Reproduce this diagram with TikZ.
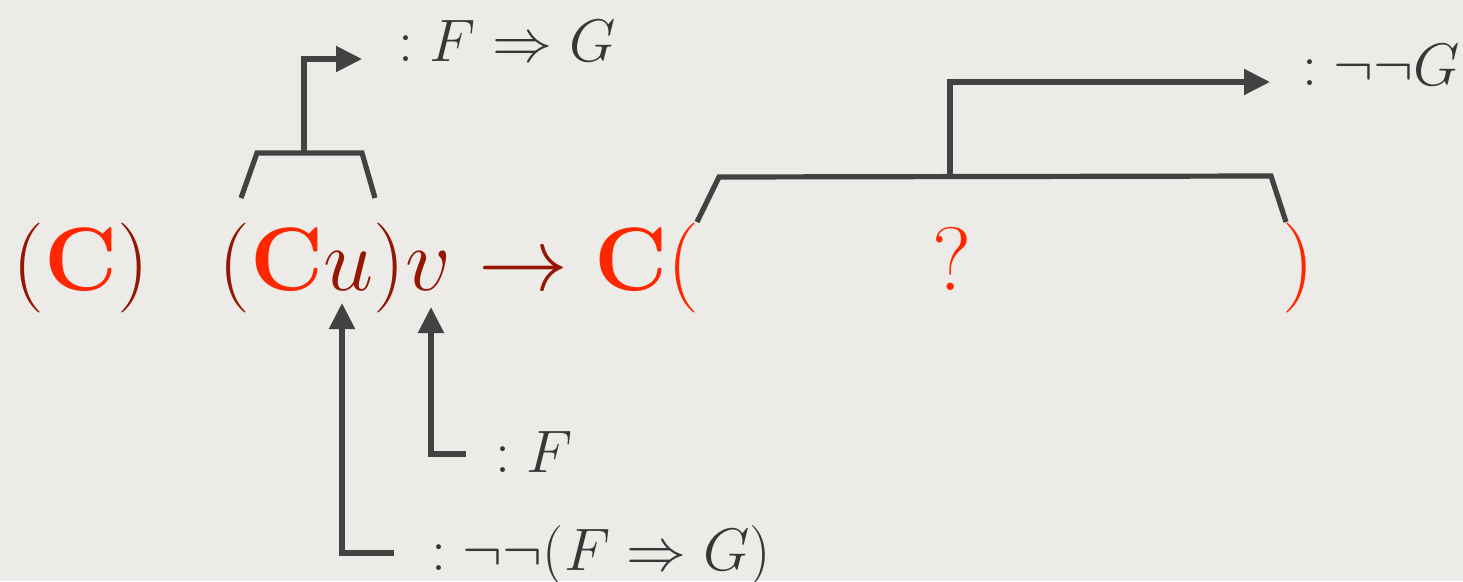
\RequirePackage{fix-cm}
\documentclass[tikz,border=0pt]{standalone}
\usetikzlibrary{arrows.meta}
\definecolor{bg}{RGB}{237,235,231}
\definecolor{dred}{RGB}{150,22,4}
\definecolor{bred}{RGB}{255,38,0}
\definecolor{lin}{RGB}{66,66,66}
\definecolor{txt}{RGB}{55,55,55}
\tikzset{
  big/.style={inner sep=0pt, anchor=base west, font=\fontsize{90}{90}\selectfont},
  lab/.style={inner sep=0pt, anchor=base west, text=txt, font=\fontsize{60}{60}\selectfont},
  conn/.style={draw=lin, line width=5.2pt, line join=miter},
  arr/.style={conn, -{Triangle[length=26pt,width=25pt]}}
}
\begin{document}
\begin{tikzpicture}[x=1pt,y=-1pt]
\fill[bg] (0,0) rectangle (1463,581);
\useasboundingbox (0,0) rectangle (1463,581);
% main line
\node[big] (cc) at (12,290) {$\textcolor{dred}{(}\textcolor{bred}{\mathbf{C}}\textcolor{dred}{)}$};
\node[big] (cuv) at (218,290) {$\textcolor{dred}{(}\textcolor{bred}{\mathbf{C}}\textcolor{dred}{u)v}$};
\node[big, text=dred] (to) at (478,290) {$\rightarrow$};
\node[big, text=bred] (cl) at (594,290) {$\mathbf{C}($};
\node[big, text=bred] (q) at (932,290) {?};
\node[big, text=bred] (rp) at (1282,290) {$)$};
% labels
\node[lab] (l1) at (398,61) {$:F\Rightarrow G$};
\node[lab] (l2) at (1302,85) {$:\neg\neg G$};
\node[lab] (l3) at (495,472) {$:F$};
\node[lab] (l4) at (431,570) {$:\neg\neg(F\Rightarrow G)$};
% small bracket over (Cu)
\coordinate (b1a) at (241,198);
\coordinate (b1b) at (257,153);
\coordinate (b1c) at (362,153);
\coordinate (b1d) at (375,198);
\coordinate (b1s) at (304,153);
\coordinate (b1t) at (362,59);
\draw[conn] (b1a) -- (b1b) -- (b1c) -- (b1d);
\draw[arr] (b1s) |- (b1t);
% big bracket over ( ? )
\coordinate (b2a) at (697,222);
\coordinate (b2b) at (719,177);
\coordinate (b2c) at (1271,176);
\coordinate (b2d) at (1286,222);
\coordinate (b2s) at (950,177);
\coordinate (b2t) at (1270,82);
\draw[conn] (b2a) -- (b2b) -- (b2c) -- (b2d);
\draw[arr] (b2s) |- (b2t);
% arrows from below
\coordinate (a1s) at (394,553);
\coordinate (a1t) at (342,303);
\draw[arr] (a1s) -| (a1t);
\coordinate (a2s) at (466,454);
\coordinate (a2t) at (431,307);
\draw[arr] (a2s) -| (a2t);
\end{tikzpicture}
\end{document}
